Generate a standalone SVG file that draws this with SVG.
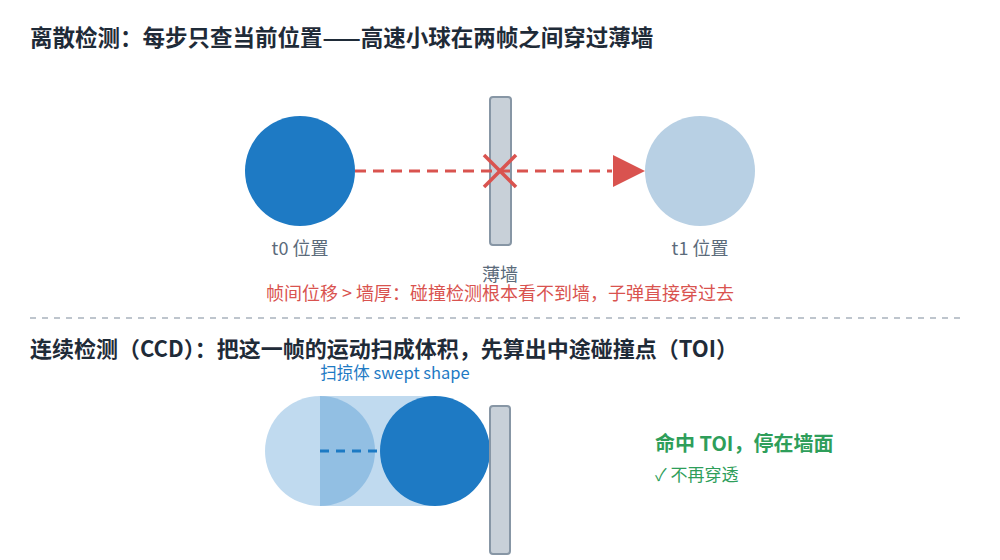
<svg xmlns="http://www.w3.org/2000/svg" width="1000" height="560" viewBox="0 0 1000 560">
<defs>
<style>
text{font-family:"Noto Sans CJK SC","Noto Sans",sans-serif}
.title{font-weight:bold;fill:#1f2b38}
.lbl{font-size:18px;fill:#5b6b7b;text-anchor:middle}
.warn{font-size:18px;fill:#d9534f;text-anchor:middle}
.wall{fill:#c8d0d8;stroke:#8796a5;stroke-width:2}
.sweep{fill:#1e7ac4;fill-opacity:0.28}
</style>
</defs>
<rect width="1000" height="560" fill="#ffffff"/>
<text class="title" x="30" y="46" font-size="22.5">离散检测：每步只查当前位置——高速小球在两帧之间穿过薄墙</text>
<g id="ball-t0">
<circle cx="300" cy="171" r="55" fill="#1e7ac4"/>
<text class="lbl" x="300" y="255">t0 位置</text>
</g>
<g id="wall-1">
<rect class="wall" x="490" y="97" width="21" height="148" rx="3"/>
<text class="lbl" x="500" y="281">薄墙</text>
</g>
<g id="ball-t1">
<circle cx="700" cy="171" r="55" fill="#b8d0e4"/>
<text class="lbl" x="700" y="255">t1 位置</text>
</g>
<g id="connectors">
<line x1="355" y1="171" x2="612" y2="171" stroke="#d9534f" stroke-width="3" stroke-dasharray="11,7"/>
<path d="M613,155 L645,171 L613,187 Z" fill="#d9534f"/>
<line x1="320" y1="451" x2="380" y2="451" stroke="#1e7ac4" stroke-width="3" stroke-dasharray="9,7"/>
</g>
<g id="miss-mark" stroke="#d9534f" stroke-width="3.5">
<line x1="484" y1="155" x2="516" y2="187"/>
<line x1="516" y1="155" x2="484" y2="187"/>
</g>
<text class="warn" x="500" y="300">帧间位移 &gt; 墙厚：碰撞检测根本看不到墙，子弹直接穿过去</text>
<line x1="30" y1="318" x2="960" y2="318" stroke="#a9b3bd" stroke-width="1.5" stroke-dasharray="6,6"/>
<text class="title" x="30" y="357" font-size="22">连续检测（CCD）：把这一帧的运动扫成体积，先算出中途碰撞点（TOI）</text>
<text x="395" y="379" font-size="16.5" fill="#1e7ac4" text-anchor="middle">扫掠体 swept shape</text>
<g id="swept-shape">
<circle class="sweep" cx="320" cy="451" r="55"/>
<rect class="sweep" x="320" y="396" width="115" height="110"/>
</g>
<g id="ball-toi">
<circle cx="435" cy="451" r="55" fill="#1e7ac4"/>
</g>
<g id="wall-2">
<rect class="wall" x="490" y="406" width="20" height="148" rx="3"/>
</g>
<g id="result">
<text x="655" y="451" font-size="20" font-weight="bold" fill="#2e9e5a">命中 TOI，停在墙面</text>
<text x="655" y="481" font-size="17" fill="#2e9e5a">✓ 不再穿透</text>
</g>
</svg>
